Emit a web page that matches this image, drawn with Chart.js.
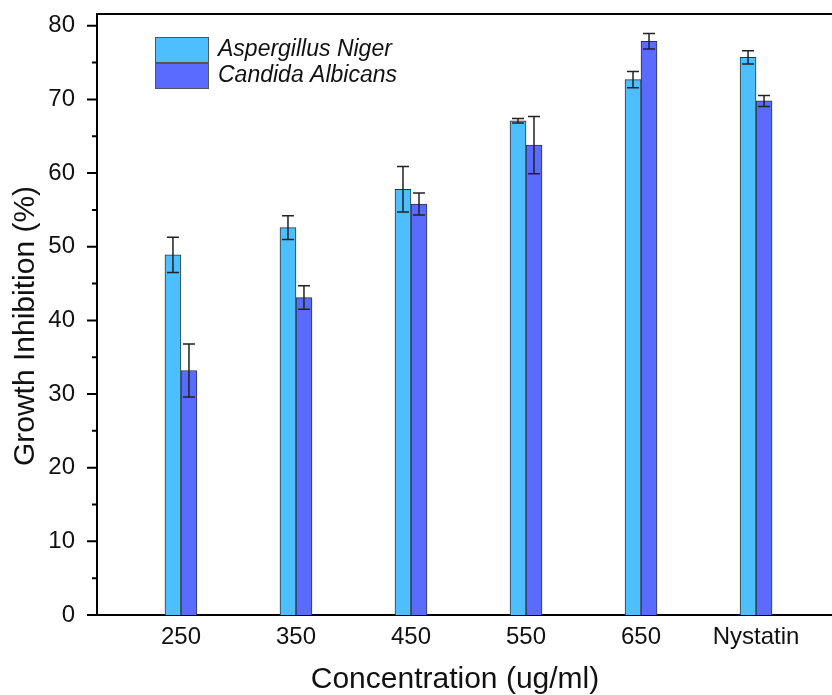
<!DOCTYPE html>
<html>
<head>
<meta charset="utf-8">
<script src="https://cdn.jsdelivr.net/npm/chart.js@4.4.0/dist/chart.umd.min.js"></script>
<style>
  html, body { margin: 0; padding: 0; background: #fff; overflow: hidden; }
</style>
</head>
<body>
<canvas id="growthChart" width="850" height="695"></canvas>
<script>
// valeurs
const categories = ['250', '350', '450', '550', '650', 'Nystatin'];
const seriesNames = ['Aspergillus Niger', 'Candida Albicans'];
const aspergillus = [48.9, 52.6, 57.8, 67.1, 72.7, 75.7];
const aspergillusErr = [2.4, 1.6, 3.1, 0.3, 1.1, 0.9];
const candida = [33.2, 43.1, 55.8, 63.8, 77.9, 69.8];
const candidaErr = [3.6, 1.6, 1.5, 3.9, 1.05, 0.75];
const yTicks = [0, 10, 20, 30, 40, 50, 60, 70, 80];
const yMinorTicks = [5, 15, 25, 35, 45, 55, 65, 75];
const xTitle = 'Concentration (ug/ml)';
const yTitle = 'Growth Inhibition (%)';

const toPoints = arr => arr.map((v, i) => ({ x: i + 1, y: v }));

// barres d'erreur
const errorBars = {
  id: 'errorBars',
  afterDatasetsDraw(chart) {
    const ctx = chart.ctx;
    const yScale = chart.scales.y;
    ctx.save();
    ctx.strokeStyle = '#222';
    ctx.lineWidth = 1.5;
    chart.data.datasets.forEach((ds, i) => {
      const meta = chart.getDatasetMeta(i);
      meta.data.forEach((bar, j) => {
        const v = ds.data[j].y;
        const e = ds.errors[j];
        const top = yScale.getPixelForValue(v + e);
        const bot = yScale.getPixelForValue(v - e);
        ctx.beginPath();
        ctx.moveTo(bar.x, top);
        ctx.lineTo(bar.x, bot);
        ctx.moveTo(bar.x - 6, top);
        ctx.lineTo(bar.x + 6, top);
        ctx.moveTo(bar.x - 6, bot);
        ctx.lineTo(bar.x + 6, bot);
        ctx.stroke();
      });
    });
    ctx.restore();
  }
};

// cadre, graduations de l'axe y et titres des axes
const frameTicks = {
  id: 'frameTicks',
  afterDraw(chart) {
    const ctx = chart.ctx;
    const area = chart.chartArea;
    const yScale = chart.scales.y;
    ctx.save();
    ctx.strokeStyle = '#000';
    ctx.lineWidth = 2;
    ctx.beginPath();
    ctx.moveTo(area.left - 1, area.top);
    ctx.lineTo(area.right, area.top);
    ctx.lineTo(area.right, area.bottom);
    yTicks.forEach(v => {
      const py = yScale.getPixelForValue(v);
      ctx.moveTo(area.left - 10, py);
      ctx.lineTo(area.left, py);
    });
    yMinorTicks.forEach(v => {
      const py = yScale.getPixelForValue(v);
      ctx.moveTo(area.left - 5, py);
      ctx.lineTo(area.left, py);
    });
    ctx.stroke();

    ctx.fillStyle = '#111';
    ctx.font = '30px "Liberation Sans", Arial, sans-serif';
    ctx.textAlign = 'center';
    ctx.textBaseline = 'alphabetic';
    ctx.fillText(xTitle, 455, 688);
    ctx.translate(34, 326);
    ctx.rotate(-Math.PI / 2);
    ctx.fillText(yTitle, 0, 0);
    ctx.restore();
  }
};

// légende dans le graphique
const boxLegend = {
  id: 'boxLegend',
  afterDraw(chart) {
    const ctx = chart.ctx;
    ctx.save();
    ctx.font = 'italic 23px "Liberation Sans", Arial, sans-serif';
    ctx.textBaseline = 'middle';
    let y = 37;
    chart.data.datasets.forEach(ds => {
      ctx.fillStyle = ds.backgroundColor;
      ctx.fillRect(155, y, 54, 26);
      ctx.strokeStyle = '#555';
      ctx.lineWidth = 1;
      ctx.strokeRect(155.5, y + 0.5, 53, 25);
      ctx.fillStyle = '#111';
      ctx.fillText(ds.label, 218, y + 13);
      y += 26;
    });
    ctx.restore();
  }
};

Chart.defaults.font.family = '"Liberation Sans", Arial, sans-serif';
Chart.defaults.color = '#111';

const ctx = document.getElementById('growthChart').getContext('2d');
const growthChart = new Chart(ctx, {
  type: 'bar',
  data: {
    datasets: [{
      label: seriesNames[0],
      data: toPoints(aspergillus),
      errors: aspergillusErr,
      backgroundColor: '#4dbfff',
      borderColor: '#333',
      borderWidth: 1,
      barThickness: 16
    }, {
      label: seriesNames[1],
      data: toPoints(candida),
      errors: candidaErr,
      backgroundColor: '#5a6cff',
      borderColor: '#333',
      borderWidth: 1,
      barThickness: 16
    }]
  },
  options: {
    responsive: false,
    animation: false,
    layout: { padding: { top: 14, right: 10, left: 0, bottom: 0 } },
    plugins: {
      legend: { display: false },
      tooltip: { enabled: false }
    },
    scales: {
      x: {
        type: 'linear',
        min: 0.27,
        max: 6.73,
        offset: false,
        grid: { display: false, drawTicks: false },
        border: { color: '#000', width: 2 },
        afterBuildTicks: s => { s.ticks = categories.map((c, i) => ({ value: i + 1 })); },
        ticks: {
          callback: v => categories[v - 1] || '',
          font: { size: 24 },
          padding: 8,
          autoSkip: false,
          maxRotation: 0
        },
        afterFit: s => { s.height = 80; s.paddingLeft = 0; s.paddingRight = 0; }
      },
      y: {
        min: 0,
        max: 81.6,
        grid: { display: false, drawTicks: false },
        border: { color: '#000', width: 2 },
        afterBuildTicks: s => { s.ticks = yTicks.map(v => ({ value: v })); },
        ticks: { font: { size: 24 }, padding: 22 },
        afterFit: s => { s.width = 97; s.paddingTop = 0; s.paddingBottom = 0; }
      }
    }
  },
  plugins: [errorBars, frameTicks, boxLegend]
});
</script>
</body>
</html>
